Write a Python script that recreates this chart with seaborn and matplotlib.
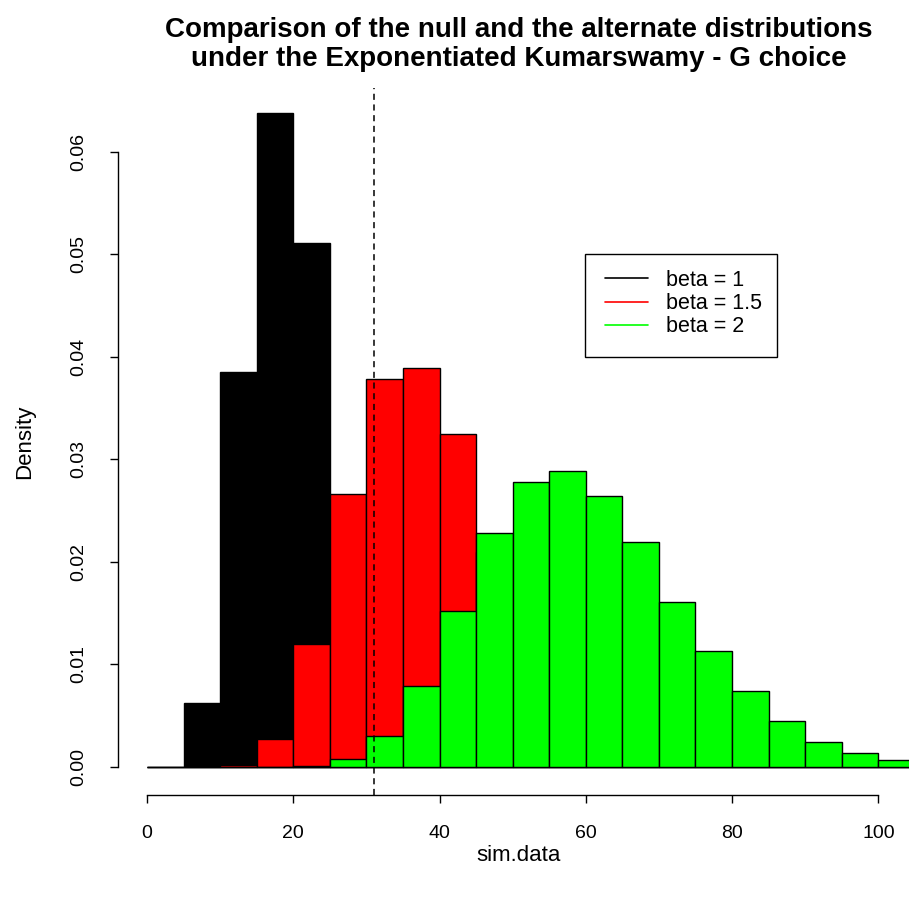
import numpy as np
import pandas as pd
import matplotlib
matplotlib.use("Agg")
import matplotlib.pyplot as plt
import seaborn as sns
from matplotlib.lines import Line2D
from matplotlib.patches import Rectangle

# Bin edges shared by the three simulated samples (width 5)
bin_edges = list(range(0, 115, 5))

# Density per bin for each beta value
dens_beta_1 = [0.0, 0.0062, 0.0385, 0.0638, 0.0511, 0.0235, 0.0115, 0.0040,
               0.0008, 0.0, 0.0, 0.0, 0.0, 0.0, 0.0, 0.0, 0.0, 0.0, 0.0, 0.0, 0.0, 0.0]
dens_beta_15 = [0.0, 0.0, 0.0002, 0.0027, 0.0120, 0.0266, 0.0378, 0.0389,
                0.0325, 0.0210, 0.0140, 0.0075, 0.0040, 0.0018, 0.0008, 0.0003,
                0.0, 0.0, 0.0, 0.0, 0.0, 0.0]
dens_beta_2 = [0.0, 0.0, 0.0, 0.0, 0.0001, 0.0008, 0.0030, 0.0079, 0.0152,
               0.0228, 0.0278, 0.0289, 0.0264, 0.0219, 0.0161, 0.0113, 0.0074,
               0.0045, 0.0024, 0.0014, 0.0007, 0.0003]

series_labels = ["beta = 1", "beta = 1.5", "beta = 2"]
series_colors = ["#000000", "#FF0000", "#00FF00"]
cutoff = 31

x_ticks = [0, 20, 40, 60, 80, 100]
y_ticks = [0.00, 0.01, 0.02, 0.03, 0.04, 0.05, 0.06]

sns.set_style("white")
plt.rcParams["font.family"] = ["Liberation Sans", "DejaVu Sans"]
plt.rcParams["text.color"] = "black"
plt.rcParams["axes.labelcolor"] = "black"

fig = plt.figure(figsize=(9.09, 9.09), dpi=100)
W = H = 909.0
left_px, right_px, top_px, bottom_px = 118, 920, 88, 795
ax_w = right_px - left_px
ax_h = bottom_px - top_px
ax = fig.add_axes([left_px / W, 1 - bottom_px / H, ax_w / W, ax_h / H])


def ax_x(px):
    return (px - left_px) / ax_w


def ax_y(py):
    return (bottom_px - py) / ax_h


centers = [(a + b) / 2 for a, b in zip(bin_edges[:-1], bin_edges[1:])]
for dens, col in zip([dens_beta_1, dens_beta_15, dens_beta_2], series_colors):
    df = pd.DataFrame({"x": centers, "w": dens})
    sns.histplot(data=df, x="x", weights="w", bins=bin_edges, stat="count",
                 color=col, edgecolor="black", linewidth=1.0, alpha=1.0,
                 ax=ax)

ax.axvline(cutoff, color="black", linestyle=(0, (4, 3)), linewidth=1.1, zorder=5)

ax.set_xlim(-3.97, 105.7)
ax.set_ylim(-0.00273, 0.0662)

ax.set_xticks(x_ticks)
ax.set_xticklabels([str(t) for t in x_ticks])
ax.set_yticks(y_ticks)
ax.set_yticklabels([f"{t:.2f}" for t in y_ticks], rotation=90, va="center")

for side in ["top", "right"]:
    ax.spines[side].set_visible(False)
ax.spines["left"].set_bounds(0, 0.06)
ax.spines["bottom"].set_bounds(0, 100)
for side in ["left", "bottom"]:
    ax.spines[side].set_color("black")
    ax.spines[side].set_linewidth(1.0)

ax.tick_params(axis="x", direction="out", length=5.5, width=1.0, pad=16,
               labelsize=14, colors="black", bottom=True)
ax.tick_params(axis="y", direction="out", length=5.5, width=1.0, pad=17,
               labelsize=14, colors="black", left=True)
ax.set_xlabel("sim.data", fontsize=16, labelpad=2, color="black")
ax.set_ylabel("Density", fontsize=16, labelpad=25, color="black")

# Legend: square box plus line keys
ax.add_patch(Rectangle((ax_x(585), ax_y(357)), 192 / ax_w, 103 / ax_h,
                       transform=ax.transAxes, facecolor="white",
                       edgecolor="black", linewidth=1.0, zorder=6))
handles = [Line2D([0], [0], color=c, linewidth=1.2) for c in series_colors]
leg = ax.legend(handles, series_labels, loc="upper left",
                bbox_to_anchor=(ax_x(605), ax_y(270)), borderaxespad=0,
                borderpad=0, fontsize=15.5, frameon=False, labelcolor="black",
                handlelength=2.0, handletextpad=0.85, labelspacing=0.10)
leg.set_zorder(7)

fig.text(519 / W, 1 - 44.5 / H,
         "Comparison of the null and the alternate distributions\n"
         "under the Exponentiated Kumarswamy - G choice",
         ha="center", va="center", fontsize=20, fontweight="bold",
         linespacing=1.12, color="black")

fig.savefig("out.png", dpi=100)
